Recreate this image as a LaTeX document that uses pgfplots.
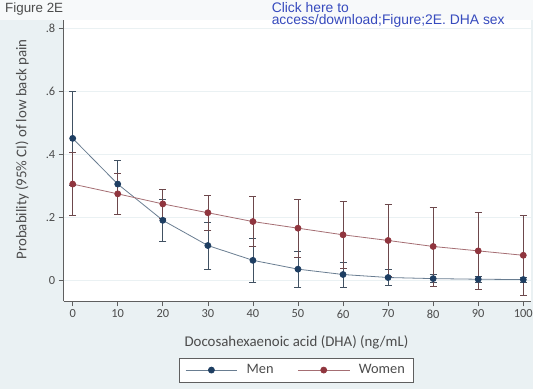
\documentclass[border=0pt]{standalone}
\usepackage{pgfplots}
\pgfplotsset{compat=1.18}
\usepackage{pgfplotstable}
\usepackage{fontspec}
\setmainfont{Carlito}
\newfontfamily\arial{Liberation Sans}
\definecolor{bg}{RGB}{234,241,243}
\definecolor{men}{RGB}{30,62,98}
\definecolor{menline}{RGB}{105,125,145}
\definecolor{women}{RGB}{144,53,62}
\definecolor{womenline}{RGB}{165,110,115}
\definecolor{linkblue}{RGB}{55,75,190}
\definecolor{axisgray}{RGB}{95,95,95}

\pgfplotstableread{
x y plus minus
0 0.450 0.150 0.150
10 0.305 0.077 0.095
20 0.190 0.067 0.067
30 0.110 0.075 0.075
40 0.063 0.070 0.070
50 0.035 0.056 0.056
60 0.018 0.039 0.039
70 0.0085 0.025 0.025
80 0.005 0.013 0.013
90 0.003 0.010 0.010
100 0.002 0.008 0.008
}\men

\pgfplotstableread{
x y plus minus
0 0.305 0.100 0.100
10 0.274 0.064 0.064
20 0.242 0.045 0.045
30 0.214 0.056 0.056
40 0.186 0.079 0.079
50 0.165 0.093 0.093
60 0.144 0.105 0.105
70 0.126 0.114 0.114
80 0.107 0.125 0.125
90 0.093 0.123 0.123
100 0.079 0.126 0.126
}\women

\begin{document}
\begin{tikzpicture}
\fill[bg] (0bp,0bp) rectangle (536bp,391bp);
\fill[white!60!bg] (0bp,371bp) rectangle (536bp,391bp);
\begin{axis}[
  at={(64bp,88bp)}, anchor=south west,
  scale only axis, width=470bp, height=283bp,
  xmin=-2, xmax=101.75, ymin=-0.0673, ymax=0.826,
  axis background/.style={fill=white},
  axis x line*=bottom, axis y line*=left,
  axis line style={axisgray, line width=0.8pt},
  tick align=outside, major tick length=5bp,
  tick style={axisgray, line width=0.6pt},
  xtick={0,10,...,100},
  ytick={0,0.2,0.4,0.6,0.8},
  yticklabels={0,.2,.4,.6,.8},
  ymajorgrids, grid style={bg, line width=0.8pt},
  /pgf/number format/assume math mode=true,
  ticklabel style={font=\fontsize{12.5}{13}\selectfont, text=black!70},
  xlabel={Docosahexaenoic acid (DHA) (ng/mL)},
  ylabel={Probability (95\% CI) of low back pain},
  label style={font=\fontsize{15}{16}\selectfont, text=black!70},
  xlabel style={at={(axis description cs:0.498,-0.145)}, anchor=center},
  ylabel style={at={(axis description cs:-0.089,0.54)}, anchor=center, rotate=0},
  legend columns=2,
  legend style={at={(axis description cs:0.497,-0.244)}, anchor=center, draw=axisgray, fill=white, font=\fontsize{14.5}{15}\selectfont, text=black!70, inner xsep=6bp, inner ysep=5bp,
    /tikz/every odd column/.append style={column sep=7bp},
    /tikz/every even column/.append style={column sep=22bp}},
  legend image code/.code={\draw[mark repeat=2,mark phase=2,#1] plot coordinates {(0bp,0bp) (26bp,0bp) (52bp,0bp)};},
  clip=false,
]
\addplot[menline, line width=0.8pt, mark=*, mark size=3bp, mark options={fill=men, draw=men},
  error bars/.cd, y dir=both, y explicit, error bar style={men!60!black!80, line width=0.6pt}, error mark options={rotate=90, men!60!black!80, mark size=3.5bp, line width=0.6pt}]
  table[x=x, y=y, y error plus=plus, y error minus=minus]{\men};
\addlegendentry{Men}
\addplot[womenline, line width=0.8pt, mark=*, mark size=3bp, mark options={fill=women, draw=women},
  error bars/.cd, y dir=both, y explicit, error bar style={women!50!black!80, line width=0.6pt}, error mark options={rotate=90, women!50!black!80, mark size=3.5bp, line width=0.6pt}]
  table[x=x, y=y, y error plus=plus, y error minus=minus]{\women};
\addlegendentry{Women}
\end{axis}
\node[anchor=north west, font=\arial\fontsize{13.5}{14}\selectfont, text=black!70, inner sep=0pt] at (5bp,388bp) {Figure 2E};
\node[anchor=north west, align=left, font=\arial\fontsize{14}{12.5}\selectfont, text=linkblue, inner sep=0pt] at (273bp,389bp) {Click here to\\access/download;Figure;2E. DHA sex};
\end{tikzpicture}
\end{document}
